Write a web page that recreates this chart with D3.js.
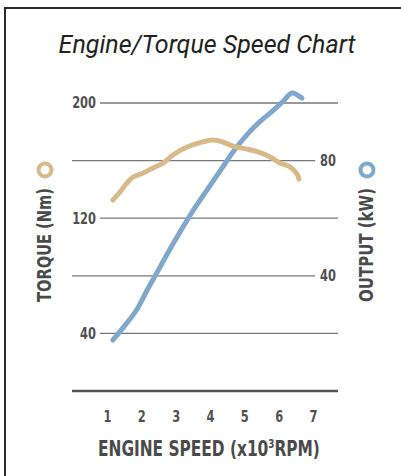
<!DOCTYPE html>
<html>
<head>
<meta charset="utf-8">
<script src="https://cdn.jsdelivr.net/npm/d3@7"></script>
<style>
  html, body { margin: 0; padding: 0; background: #fff; }
  svg { display: block; }
  .cond { font-family: "DejaVu Sans Condensed", "Open Sans", sans-serif; font-stretch: condensed; font-weight: bold; }
</style>
</head>
<body>
<svg id="chart" width="401" height="476"></svg>
<script>
// ---- data ----
const rpmTicks = [1, 2, 3, 4, 5, 6, 7];
const torqueTickLabels = [40, 120, 200];
const outputTickLabels = [40, 80];
const torqueRpm = [1.17, 1.38, 1.58, 1.76, 2.05, 2.34, 2.63, 2.92, 3.33, 3.71, 4.09, 4.38, 4.67, 5.08, 5.40, 5.75, 6.04, 6.33, 6.53, 6.59];
const torqueNm  = [132.6, 138.2, 144.4, 148.6, 151.4, 154.9, 158.3, 163.9, 169.4, 172.5, 174.3, 172.9, 170.0, 168.0, 166.0, 162.5, 158.3, 155.6, 150.7, 147.2];
const outputRpm = [1.17, 1.47, 1.87, 2.19, 2.46, 2.75, 3.13, 3.50, 4.00, 4.44, 4.67, 5.08, 5.46, 5.84, 6.13, 6.39, 6.68];
const outputKw  = [17.7, 22.0, 28.3, 35.5, 41.2, 47.5, 55.3, 62.5, 71.3, 79.0, 83.0, 89.0, 93.6, 97.4, 100.6, 103.5, 101.7];
const title = "Engine/Torque Speed Chart";
const xTitle = "ENGINE SPEED (x10";
const leftTitle = "TORQUE (Nm)";
const rightTitle = "OUTPUT (kW)";

const tan = "#d7b98a", blue = "#80a8cd", ink = "#4a4a4a";
const condense = 0.82;

const svg = d3.select("#chart");

// frame
svg.append("rect").attr("x", 5).attr("y", 8).attr("width", 420).attr("height", 500)
  .attr("fill", "none").attr("stroke", "#2b2b2b").attr("stroke-width", 2);

// scales
const x = d3.scaleLinear().domain([1, 7]).range([107, 313]);
const yT = d3.scaleLinear().domain([0, 200]).range([391, 103]);
const yO = d3.scaleLinear().domain([0, 100]).range([391, 103]);

// title
svg.append("text").attr("x", 207).attr("y", 53).attr("text-anchor", "middle")
  .attr("font-family", "Roboto, sans-serif").attr("font-style", "italic")
  .attr("font-size", 25).attr("fill", "#222").text(title);

// gridlines
const gridVals = [40, 80, 120, 160, 200];
svg.append("g").selectAll("line").data(gridVals).join("line")
  .attr("x1", d => torqueTickLabels.includes(d) ? 100 : 72)
  .attr("x2", d => torqueTickLabels.includes(d) ? 338 : 315)
  .attr("y1", d => yT(d)).attr("y2", d => yT(d))
  .attr("stroke", "#777").attr("stroke-width", 1.3);

// baseline
svg.append("line").attr("x1", 72).attr("x2", 338).attr("y1", yT(0)).attr("y2", yT(0))
  .attr("stroke", "#555").attr("stroke-width", 2.5);

// axes
const gx = svg.append("g").attr("transform", `translate(0,${yT(0)})`)
  .call(d3.axisBottom(x).tickValues(rpmTicks).tickSize(0).tickPadding(20).tickFormat(d3.format("d")));
const gl = svg.append("g").attr("transform", "translate(100,0)")
  .call(d3.axisLeft(yT).tickValues(torqueTickLabels).tickSize(0).tickPadding(4));
const gr = svg.append("g").attr("transform", "translate(315,0)")
  .call(d3.axisRight(yO).tickValues(outputTickLabels).tickSize(0).tickPadding(5));
[gx, gl, gr].forEach(g => {
  g.select(".domain").remove();
  g.selectAll("text")
    .attr("font-size", 15.5)
    .attr("font-family", '"DejaVu Sans Condensed", "Open Sans", sans-serif')
    .attr("font-weight", "bold").attr("fill", "#505050")
    .each(function() {
      const t = d3.select(this);
      const xv = +t.attr("x") || 0;
      t.attr("x", xv / condense).attr("transform", `scale(${condense},1)`);
    });
});

// lines
const lineT = d3.line().x(d => x(d[0])).y(d => yT(d[1])).curve(d3.curveCatmullRom.alpha(0.5));
const lineO = d3.line().x(d => x(d[0])).y(d => yO(d[1])).curve(d3.curveCatmullRom.alpha(0.5));
svg.append("path").datum(d3.zip(outputRpm, outputKw)).attr("d", lineO)
  .attr("fill", "none").attr("stroke", blue).attr("stroke-width", 5)
  .attr("stroke-linecap", "round").attr("stroke-linejoin", "round");
svg.append("path").datum(d3.zip(torqueRpm, torqueNm)).attr("d", lineT)
  .attr("fill", "none").attr("stroke", tan).attr("stroke-width", 5)
  .attr("stroke-linecap", "round").attr("stroke-linejoin", "round");

// x title (condensed horizontally to the reference width)
const xg = svg.append("g");
const xt = xg.append("text").attr("class", "cond").attr("x", 0).attr("y", 0)
  .attr("font-size", 21).attr("fill", ink);
xt.append("tspan").text(xTitle);
xt.append("tspan").attr("font-size", 12).attr("dy", -8).text("3");
xt.append("tspan").attr("dy", 8).text("RPM)");
const w = xt.node().getBBox().width;
xg.attr("transform", `translate(98,456) scale(${222 / w},1)`);

// y titles
svg.append("text").attr("class", "cond").attr("font-size", 20).attr("fill", ink)
  .attr("transform", "translate(51,245) rotate(-90)").attr("text-anchor", "middle")
  .attr("textLength", 114).attr("lengthAdjust", "spacingAndGlyphs").text(leftTitle);
svg.append("circle").attr("cx", 45).attr("cy", 170).attr("r", 6.5)
  .attr("fill", "none").attr("stroke", tan).attr("stroke-width", 4);

svg.append("text").attr("class", "cond").attr("font-size", 20).attr("fill", ink)
  .attr("transform", "translate(373,245) rotate(-90)").attr("text-anchor", "middle")
  .attr("textLength", 114).attr("lengthAdjust", "spacingAndGlyphs").text(rightTitle);
svg.append("circle").attr("cx", 367).attr("cy", 170).attr("r", 6.5)
  .attr("fill", "none").attr("stroke", blue).attr("stroke-width", 4);
</script>
</body>
</html>
